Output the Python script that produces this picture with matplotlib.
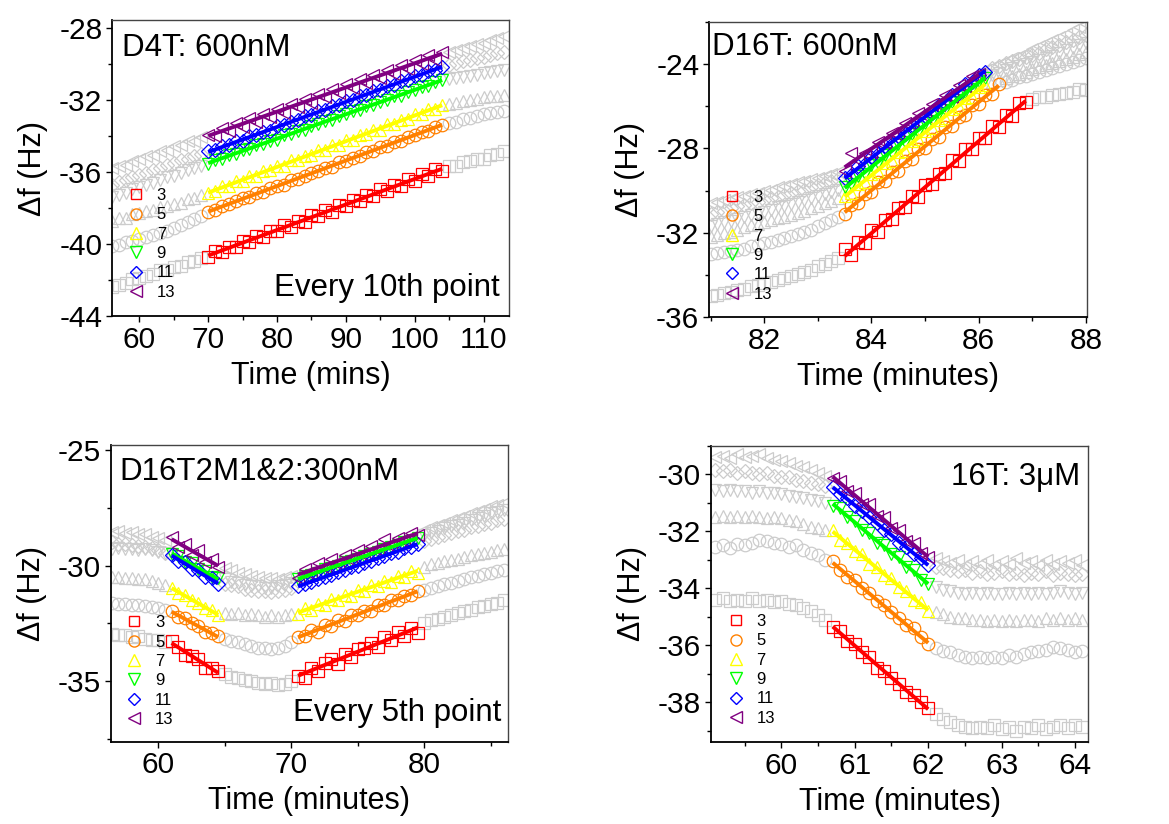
import numpy as np
import matplotlib
matplotlib.use("Agg")
import matplotlib.pyplot as plt
from matplotlib.lines import Line2D
from matplotlib.ticker import MultipleLocator

plt.rcParams['font.family'] = ['Liberation Sans', 'DejaVu Sans']
plt.rcParams['axes.unicode_minus'] = False

# ---------------- common ----------------
harmonics = ['3', '5', '7', '9', '11', '13']
colors = ['#FF0000', '#FF8000', '#FFFF00', '#00FF00', '#0000FF', '#800080']
markers = ['s', 'o', '^', 'v', 'D', '<']
GRAY = '#CCCCCC'

# ---------------- panel 1: D4T 600nM ----------------
p1_time = [56, 57, 58, 59, 60, 61, 62, 63, 64, 65, 66, 67, 68, 69, 70, 71, 72, 73, 74, 75,
           76, 77, 78, 79, 80, 81, 82, 83, 84, 85, 86, 87, 88, 89, 90, 91, 92, 93, 94, 95,
           96, 97, 98, 99, 100, 101, 102, 103, 104, 105, 106, 107, 108, 109, 110, 111, 112, 113]
p1_f3 = [-42.40, -42.25, -42.15, -41.95, -41.90, -41.75, -41.65, -41.45, -41.45, -41.25,
         -41.20, -41.00, -40.95, -40.80, -40.70, -40.40, -40.45, -40.15, -40.15, -39.85,
         -39.90, -39.55, -39.60, -39.30, -39.30, -38.95, -39.05, -38.70, -38.75, -38.40,
         -38.45, -38.10, -38.20, -37.85, -37.90, -37.55, -37.60, -37.30, -37.35, -36.95,
         -37.05, -36.70, -36.80, -36.40, -36.50, -36.10, -36.20, -35.85, -35.95, -35.65,
         -35.65, -35.45, -35.40, -35.25, -35.25, -35.05, -35.00, -34.85]
p1_f5 = [-40.10, -40.05, -39.90, -39.85, -39.70, -39.60, -39.50, -39.40, -39.25, -39.10,
         -38.95, -38.80, -38.60, -38.45, -38.20, -38.10, -37.90, -37.80, -37.60, -37.45,
         -37.40, -37.15, -37.10, -36.90, -36.75, -36.70, -36.45, -36.40, -36.20, -36.05,
         -35.95, -35.75, -35.70, -35.45, -35.40, -35.20, -35.10, -34.90, -34.85, -34.60,
         -34.55, -34.35, -34.25, -34.05, -33.95, -33.75, -33.70, -33.50, -33.40, -33.30,
         -33.20, -33.05, -33.00, -32.90, -32.80, -32.70, -32.65, -32.60]
p1_f7 = [-38.70, -38.55, -38.55, -38.35, -38.30, -38.15, -38.10, -37.95, -37.90, -37.75,
         -37.70, -37.50, -37.45, -37.25, -37.15, -37.05, -36.80, -36.80, -36.50, -36.50,
         -36.20, -36.20, -35.95, -35.90, -35.65, -35.65, -35.35, -35.35, -35.10, -35.05,
         -34.80, -34.80, -34.50, -34.50, -34.20, -34.20, -33.95, -33.90, -33.65, -33.65,
         -33.35, -33.35, -33.10, -33.05, -32.80, -32.80, -32.50, -32.50, -32.25, -32.20,
         -32.15, -32.05, -32.00, -31.95, -31.85, -31.80, -31.75, -31.70]
p1_f9 = [-37.40, -37.25, -37.15, -36.95, -36.85, -36.70, -36.60, -36.45, -36.30, -36.20,
         -36.05, -35.90, -35.80, -35.65, -35.55, -35.35, -35.25, -35.05, -35.00, -34.80,
         -34.70, -34.50, -34.45, -34.25, -34.20, -33.95, -33.90, -33.70, -33.65, -33.45,
         -33.35, -33.15, -33.10, -32.90, -32.80, -32.60, -32.55, -32.35, -32.30, -32.10,
         -32.00, -31.80, -31.75, -31.55, -31.45, -31.25, -31.20, -31.00, -30.90, -30.85,
         -30.80, -30.70, -30.65, -30.60, -30.50, -30.45, -30.40, -30.30]
p1_f11 = [-36.70, -36.55, -36.45, -36.30, -36.15, -36.05, -35.90, -35.80, -35.60, -35.50,
          -35.35, -35.25, -35.10, -35.00, -34.85, -34.80, -34.55, -34.50, -34.30, -34.25,
          -34.00, -33.95, -33.75, -33.70, -33.45, -33.40, -33.20, -33.10, -32.90, -32.85,
          -32.60, -32.55, -32.35, -32.30, -32.05, -32.00, -31.80, -31.70, -31.50, -31.45,
          -31.20, -31.15, -30.95, -30.90, -30.65, -30.60, -30.40, -30.30, -30.15, -30.05,
          -29.95, -29.85, -29.75, -29.65, -29.60, -29.50, -29.40, -29.30]
p1_f13 = [-35.80, -35.65, -35.60, -35.40, -35.30, -35.10, -35.05, -34.85, -34.80, -34.55,
          -34.50, -34.30, -34.25, -34.05, -33.95, -34.00, -33.55, -33.70, -33.30, -33.50,
          -33.00, -33.20, -32.75, -32.95, -32.50, -32.70, -32.20, -32.40, -31.95, -32.15,
          -31.65, -31.85, -31.40, -31.60, -31.10, -31.35, -30.85, -31.05, -30.60, -30.80,
          -30.30, -30.55, -30.05, -30.25, -29.75, -30.00, -29.50, -29.75, -29.35, -29.30,
          -29.20, -29.10, -29.00, -28.90, -28.80, -28.65, -28.55, -28.45]
p1_windows = [[(70, 104)], [(70, 104)], [(70, 104)], [(70, 104)], [(70, 104)], [(70, 104)]]

# ---------------- panel 2: D16T 600nM ----------------
p2_time = [81.0, 81.125, 81.25, 81.375, 81.5, 81.625, 81.75, 81.875, 82.0, 82.125,
           82.25, 82.375, 82.5, 82.625, 82.75, 82.875, 83.0, 83.125, 83.25, 83.375,
           83.5, 83.625, 83.75, 83.875, 84.0, 84.125, 84.25, 84.375, 84.5, 84.625,
           84.75, 84.875, 85.0, 85.125, 85.25, 85.375, 85.5, 85.625, 85.75, 85.875,
           86.0, 86.125, 86.25, 86.375, 86.5, 86.625, 86.75, 86.875, 87.0, 87.125,
           87.25, 87.375, 87.5, 87.625, 87.75, 87.875, 88.0]
p2_f3 = [-35.00, -34.95, -34.85, -34.80, -34.70, -34.65, -34.55, -34.50, -34.40, -34.35,
         -34.25, -34.15, -34.05, -33.95, -33.85, -33.75, -33.60, -33.50, -33.35, -33.20,
         -32.75, -33.05, -32.45, -32.50, -31.85, -31.95, -31.40, -31.35, -30.85, -30.80,
         -30.25, -30.30, -29.75, -29.70, -29.20, -29.15, -28.55, -28.60, -28.05, -28.05,
         -27.50, -27.50, -26.95, -27.00, -26.40, -26.45, -25.85, -25.80, -25.65, -25.55,
         -25.55, -25.45, -25.40, -25.35, -25.30, -25.20, -25.25]
p2_f5 = [-33.00, -32.95, -32.90, -32.85, -32.80, -32.75, -32.65, -32.60, -32.50, -32.45,
         -32.35, -32.25, -32.15, -32.05, -31.95, -31.85, -31.70, -31.55, -31.40, -31.25,
         -31.10, -30.70, -30.60, -30.15, -30.05, -29.60, -29.55, -29.10, -29.05, -28.60,
         -28.50, -28.05, -28.00, -27.55, -27.45, -27.00, -26.95, -26.50, -26.40, -25.95,
         -25.90, -25.45, -25.40, -24.95, -24.85, -24.75, -24.60, -24.55, -24.45, -24.35,
         -24.30, -24.20, -24.10, -24.00, -23.90, -23.80, -23.70]
p2_f7 = [-32.20, -32.10, -32.00, -31.95, -31.85, -31.75, -31.65, -31.60, -31.50, -31.40,
         -31.30, -31.25, -31.15, -31.05, -30.95, -30.85, -30.75, -30.60, -30.50, -30.35,
         -30.25, -30.10, -29.70, -29.60, -29.20, -29.10, -28.70, -28.60, -28.15, -28.10,
         -27.65, -27.55, -27.15, -27.05, -26.65, -26.55, -26.15, -26.05, -25.60, -25.55,
         -25.10, -25.00, -24.85, -24.75, -24.65, -24.55, -24.45, -24.35, -24.25, -24.15,
         -24.05, -23.95, -23.85, -23.75, -23.65, -23.50, -23.40]
p2_f9 = [-31.70, -31.60, -31.50, -31.45, -31.35, -31.25, -31.15, -31.10, -31.00, -30.90,
         -30.80, -30.75, -30.65, -30.55, -30.45, -30.35, -30.25, -30.15, -30.05, -29.95,
         -29.85, -29.70, -29.30, -29.20, -28.80, -28.70, -28.30, -28.20, -27.80, -27.70,
         -27.30, -27.20, -26.80, -26.70, -26.30, -26.20, -25.80, -25.70, -25.30, -25.20,
         -24.80, -24.65, -24.50, -24.40, -24.30, -24.20, -24.10, -24.00, -23.90, -23.80,
         -23.70, -23.60, -23.45, -23.35, -23.25, -23.10, -23.00]
p2_f11 = [-31.10, -31.00, -30.95, -30.85, -30.75, -30.70, -30.60, -30.55, -30.45, -30.35,
          -30.30, -30.20, -30.10, -30.00, -29.95, -29.85, -29.75, -29.65, -29.55, -29.45,
          -29.40, -29.25, -28.85, -28.75, -28.40, -28.25, -27.90, -27.80, -27.40, -27.30,
          -26.90, -26.80, -26.45, -26.30, -25.95, -25.85, -25.45, -25.35, -24.95, -24.85,
          -24.50, -24.35, -24.20, -24.10, -23.95, -23.85, -23.75, -23.65, -23.55, -23.45,
          -23.30, -23.20, -23.10, -22.95, -22.85, -22.70, -22.60]
p2_f13 = [-30.60, -30.55, -30.45, -30.40, -30.30, -30.25, -30.15, -30.10, -30.00, -29.95,
          -29.85, -29.80, -29.70, -29.60, -29.55, -29.45, -29.40, -29.30, -29.20, -29.10,
          -29.05, -28.20, -28.55, -28.20, -28.15, -27.70, -27.75, -27.25, -27.35, -26.80,
          -26.85, -26.30, -26.45, -25.90, -25.95, -25.45, -25.55, -25.00, -25.05, -24.55,
          -24.45, -24.30, -24.15, -24.00, -23.85, -23.70, -23.60, -23.45, -23.30, -23.15,
          -23.00, -22.85, -22.70, -22.55, -22.40, -22.25, -22.10]
p2_windows = [[(83.5, 86.875)], [(83.5, 86.375)], [(83.5, 86.125)],
              [(83.5, 86.125)], [(83.5, 86.125)], [(83.5, 86.0)]]

# ---------------- panel 3: D16T2M1&2 300nM ----------------
p3_time = [56.5, 57.0, 57.5, 58.0, 58.5, 59.0, 59.5, 60.0, 60.5, 61.0,
           61.5, 62.0, 62.5, 63.0, 63.5, 64.0, 64.5, 65.0, 65.5, 66.0,
           66.5, 67.0, 67.5, 68.0, 68.5, 69.0, 69.5, 70.0, 70.5, 71.0,
           71.5, 72.0, 72.5, 73.0, 73.5, 74.0, 74.5, 75.0, 75.5, 76.0,
           76.5, 77.0, 77.5, 78.0, 78.5, 79.0, 79.5, 80.0, 80.5, 81.0,
           81.5, 82.0, 82.5, 83.0, 83.5, 84.0, 84.5, 85.0, 85.5, 86.0]
p3_f3 = [-32.95, -33.00, -33.00, -33.10, -33.05, -33.15, -33.20, -33.20, -33.30, -33.25,
         -33.50, -33.85, -33.90, -34.05, -34.40, -34.40, -34.55, -34.70, -34.80, -34.85,
         -34.95, -35.00, -35.05, -35.10, -35.05, -35.15, -35.10, -35.00, -34.75, -34.85,
         -34.40, -34.55, -34.20, -34.05, -34.25, -33.80, -33.95, -33.60, -33.55, -33.35,
         -33.50, -33.10, -33.20, -32.85, -33.05, -32.70, -32.90, -32.50, -32.35, -32.30,
         -32.20, -32.15, -32.05, -31.95, -31.90, -31.80, -31.75, -31.65, -31.60, -31.50]
p3_f5 = [-31.60, -31.65, -31.65, -31.70, -31.70, -31.75, -31.80, -31.85, -31.90, -31.95,
         -32.20, -32.25, -32.50, -32.60, -32.85, -32.90, -33.05, -33.15, -33.25, -33.30,
         -33.40, -33.45, -33.55, -33.55, -33.60, -33.55, -33.45, -33.30, -33.10, -33.05,
         -32.80, -32.85, -32.55, -32.60, -32.35, -32.40, -32.15, -32.15, -31.95, -31.95,
         -31.70, -31.70, -31.50, -31.50, -31.30, -31.25, -31.10, -31.05, -30.95, -30.90,
         -30.80, -30.75, -30.65, -30.60, -30.50, -30.45, -30.35, -30.30, -30.25, -30.20]
p3_f7 = [-30.50, -30.50, -30.55, -30.55, -30.60, -30.60, -30.65, -30.75, -30.85, -30.95,
         -31.20, -31.25, -31.50, -31.60, -31.85, -31.90, -32.15, -32.05, -32.10, -32.05,
         -32.15, -32.10, -32.15, -32.20, -32.15, -32.20, -32.15, -32.10, -32.10, -31.85,
         -31.90, -31.65, -31.70, -31.45, -31.50, -31.25, -31.30, -31.05, -31.10, -30.85,
         -30.90, -30.65, -30.70, -30.45, -30.50, -30.25, -30.30, -30.05, -29.95, -29.90,
         -29.80, -29.75, -29.70, -29.65, -29.55, -29.50, -29.45, -29.40, -29.35, -29.30]
p3_f9 = [-29.30, -29.25, -29.30, -29.30, -29.35, -29.30, -29.35, -29.40, -29.45, -29.50,
         -29.60, -29.85, -29.90, -30.15, -30.25, -30.50, -30.55, -30.60, -30.70, -30.75,
         -30.85, -30.90, -30.90, -30.95, -30.95, -30.90, -30.85, -30.75, -30.60, -30.45,
         -30.40, -30.30, -30.15, -30.10, -30.00, -29.85, -29.80, -29.70, -29.60, -29.50,
         -29.40, -29.30, -29.20, -29.10, -29.00, -28.95, -28.80, -28.70, -28.60, -28.50,
         -28.40, -28.30, -28.25, -28.15, -28.05, -27.95, -27.85, -27.75, -27.70, -27.60]
p3_f11 = [-29.00, -29.05, -29.05, -29.10, -29.15, -29.20, -29.25, -29.35, -29.45, -29.55,
          -29.80, -29.85, -30.15, -30.20, -30.50, -30.55, -30.80, -30.80, -30.85, -30.90,
          -31.00, -31.05, -31.10, -31.10, -31.15, -31.10, -31.05, -30.95, -30.90, -30.80,
          -30.70, -30.60, -30.50, -30.40, -30.28, -30.20, -30.05, -30.00, -29.88, -29.80,
          -29.66, -29.60, -29.46, -29.40, -29.26, -29.20, -29.06, -28.95, -28.85, -28.75,
          -28.70, -28.60, -28.50, -28.45, -28.35, -28.30, -28.20, -28.15, -28.05, -28.00]
p3_f13 = [-28.55, -28.50, -28.60, -28.55, -28.65, -28.65, -28.75, -28.80, -28.90, -28.75,
          -29.20, -29.05, -29.55, -29.35, -29.85, -29.70, -30.05, -30.10, -30.20, -30.30,
          -30.35, -30.45, -30.50, -30.55, -30.55, -30.60, -30.50, -30.45, -30.55, -30.15,
          -30.35, -29.90, -30.10, -29.70, -29.95, -29.55, -29.75, -29.35, -29.55, -29.15,
          -29.35, -28.85, -29.15, -28.80, -28.95, -28.60, -28.70, -28.45, -28.35, -28.25,
          -28.15, -28.05, -27.95, -27.85, -27.75, -27.65, -27.55, -27.45, -27.40, -27.30]
p3_windows = [[(61.0, 64.5), (70.5, 79.5)]] * 6

# ---------------- panel 4: 16T 3uM ----------------
p4_time = [59.1, 59.2, 59.3, 59.4, 59.5, 59.6, 59.7, 59.8, 59.9, 60.0,
           60.1, 60.2, 60.3, 60.4, 60.5, 60.6, 60.7, 60.8, 60.9, 61.0,
           61.1, 61.2, 61.3, 61.4, 61.5, 61.6, 61.7, 61.8, 61.9, 62.0,
           62.1, 62.2, 62.3, 62.4, 62.5, 62.6, 62.7, 62.8, 62.9, 63.0,
           63.1, 63.2, 63.3, 63.4, 63.5, 63.6, 63.7, 63.8, 63.9, 64.0, 64.1]
p4_f3 = [-34.40, -34.35, -34.45, -34.40, -34.45, -34.35, -34.45, -34.40, -34.50, -34.45,
         -34.55, -34.60, -34.70, -34.80, -34.95, -35.10, -35.35, -35.50, -35.85, -35.95,
         -36.25, -36.40, -36.80, -36.90, -37.15, -37.35, -37.65, -37.75, -38.00, -38.20,
         -38.40, -38.60, -38.70, -38.80, -38.85, -38.90, -38.85, -38.90, -38.80, -38.95,
         -38.85, -39.00, -38.85, -38.90, -38.80, -38.95, -38.85, -38.80, -38.90, -38.80, -38.85]
p4_f5 = [-32.55, -32.50, -32.60, -32.45, -32.50, -32.40, -32.30, -32.35, -32.40, -32.45,
         -32.55, -32.50, -32.65, -32.75, -32.85, -33.00, -33.05, -33.35, -33.60, -33.70,
         -34.00, -34.15, -34.45, -34.60, -34.85, -35.05, -35.30, -35.40, -35.70, -35.95,
         -36.10, -36.20, -36.25, -36.35, -36.40, -36.45, -36.40, -36.45, -36.40, -36.45,
         -36.35, -36.40, -36.30, -36.25, -36.20, -36.15, -36.05, -36.10, -36.15, -36.25, -36.20]
p4_f7 = [-31.50, -31.45, -31.50, -31.45, -31.50, -31.45, -31.50, -31.55, -31.50, -31.55,
         -31.60, -31.65, -31.75, -31.85, -31.90, -31.95, -31.95, -32.30, -32.40, -32.70,
         -32.80, -33.15, -33.25, -33.55, -33.65, -33.95, -34.10, -34.40, -34.50, -34.80,
         -34.85, -34.90, -35.00, -35.05, -35.05, -35.10, -35.10, -35.15, -35.10, -35.15,
         -35.10, -35.15, -35.10, -35.10, -35.15, -35.05, -35.10, -35.05, -35.10, -35.05, -35.10]
p4_f9 = [-30.55, -30.60, -30.55, -30.60, -30.60, -30.65, -30.60, -30.65, -30.65, -30.70,
         -30.75, -30.80, -30.85, -30.90, -30.95, -31.00, -31.10, -31.20, -31.50, -31.65,
         -31.95, -32.05, -32.40, -32.50, -32.80, -32.90, -33.25, -33.35, -33.70, -33.85,
         -33.95, -34.05, -34.10, -34.15, -34.20, -34.15, -34.20, -34.15, -34.20, -34.20,
         -34.15, -34.20, -34.15, -34.20, -34.15, -34.20, -34.15, -34.10, -34.15, -34.20, -34.15]
p4_f11 = [-29.85, -29.90, -29.85, -29.95, -29.90, -29.95, -30.00, -29.95, -30.05, -30.10,
          -30.10, -30.20, -30.25, -30.30, -30.35, -30.40, -30.45, -30.70, -30.85, -31.10,
          -31.30, -31.50, -31.70, -31.95, -32.10, -32.40, -32.55, -32.80, -32.95, -33.20,
          -33.25, -33.30, -33.35, -33.40, -33.35, -33.45, -33.40, -33.50, -33.45, -33.40,
          -33.50, -33.45, -33.55, -33.45, -33.50, -33.40, -33.55, -33.45, -33.50, -33.55, -33.50]
p4_f13 = [-29.40, -29.35, -29.45, -29.30, -29.40, -29.35, -29.30, -29.45, -29.50, -29.55,
          -29.60, -29.70, -29.75, -29.85, -29.95, -30.05, -30.15, -30.25, -30.60, -30.65,
          -31.05, -31.05, -31.45, -31.50, -31.90, -31.95, -32.35, -32.40, -32.75, -32.90,
          -32.95, -33.05, -33.10, -33.00, -33.20, -33.05, -33.15, -33.00, -33.20, -33.05,
          -33.15, -32.95, -33.10, -33.05, -33.20, -33.00, -33.15, -33.05, -33.10, -33.00, -33.20]
p4_windows = [[(60.7, 62.0)]] * 6

# ---------------- drawing ----------------
marker_size = {'s': 8.2, 'o': 9.0, '^': 9.2, 'v': 9.2, 'D': 7.2, '<': 9.2}
leg_size = {'s': 7.5, 'o': 8.0, '^': 8.4, 'v': 8.4, 'D': 6.6, '<': 8.4}

fig = plt.figure(figsize=(11.69, 8.24), dpi=100)

panels = [
    dict(rect=[0.0958, 0.6165, 0.3396, 0.3592], time=p1_time,
         series=[p1_f3, p1_f5, p1_f7, p1_f9, p1_f11, p1_f13], windows=p1_windows,
         xlim=(56.03, 113.7), ylim=(-44.0, -27.55), xmaj=10, xmin=5, ymaj=4, ymin=2,
         xlabel='Time (mins)', leg=(0.039, 0.432)),
    dict(rect=[0.6065, 0.6153, 0.3234, 0.3580], time=p2_time,
         series=[p2_f3, p2_f5, p2_f7, p2_f9, p2_f11, p2_f13], windows=p2_windows,
         xlim=(80.97, 88.02), ylim=(-36.0, -22.0), xmaj=2, xmin=1, ymaj=4, ymin=2,
         xlabel='Time (minutes)', leg=(0.04, 0.431)),
    dict(rect=[0.0947, 0.0999, 0.3396, 0.3600], time=p3_time,
         series=[p3_f3, p3_f5, p3_f7, p3_f9, p3_f11, p3_f13], windows=p3_windows,
         xlim=(56.42, 86.27), ylim=(-37.6, -24.8), xmaj=10, xmin=5, ymaj=5, ymin=2.5,
         xlabel='Time (minutes)', leg=(0.038, 0.426)),
    dict(rect=[0.6080, 0.0992, 0.3230, 0.3600], time=p4_time,
         series=[p4_f3, p4_f5, p4_f7, p4_f9, p4_f11, p4_f13], windows=p4_windows,
         xlim=(59.04, 64.18), ylim=(-39.4, -29.0), xmaj=1, xmin=0.5, ymaj=2, ymin=1,
         xlabel='Time (minutes)', leg=(0.044, 0.432)),
]

axes = []
for P in panels:
    ax = fig.add_axes(P['rect'])
    axes.append(ax)
    t = np.array(P['time'], dtype=float)
    masks = []
    for k, y in enumerate(P['series']):
        inwin = np.zeros(t.shape, dtype=bool)
        for a, b in P['windows'][k]:
            inwin |= (t >= a - 1e-6) & (t <= b + 1e-6)
        masks.append(inwin)
    # gray background data
    for k, y in enumerate(P['series']):
        y = np.array(y, dtype=float)
        m = markers[k]
        ax.plot(t[~masks[k]], y[~masks[k]], ls='none', marker=m, ms=marker_size[m],
                mfc='none', mec=GRAY, mew=0.9, zorder=1)
    # coloured fitted data + linear fits
    for k, y in enumerate(P['series']):
        y = np.array(y, dtype=float)
        m = markers[k]
        ax.plot(t[masks[k]], y[masks[k]], ls='none', marker=m, ms=marker_size[m],
                mfc='none', mec=colors[k], mew=0.9, zorder=2 + k * 0.1)
        for a, b in P['windows'][k]:
            w = (t >= a - 1e-6) & (t <= b + 1e-6)
            coef = np.polyfit(t[w], y[w], 1)
            xs = np.array([t[w].min(), t[w].max()])
            ax.plot(xs, np.polyval(coef, xs), color=colors[k], lw=2.8,
                    solid_capstyle='butt', zorder=3 + k * 0.1)

    ax.set_xlim(*P['xlim'])
    ax.set_ylim(*P['ylim'])
    ax.xaxis.set_major_locator(MultipleLocator(P['xmaj']))
    ax.xaxis.set_minor_locator(MultipleLocator(P['xmin']))
    ax.yaxis.set_major_locator(MultipleLocator(P['ymaj']))
    ax.yaxis.set_minor_locator(MultipleLocator(P['ymin']))
    ax.tick_params(which='both', direction='out', top=False, right=False,
                   labelsize=21.5, width=1.0, colors='black')
    ax.tick_params(which='major', length=4.5, pad=2.5)
    ax.tick_params(which='minor', length=3)
    for s in ['left', 'bottom']:
        ax.spines[s].set_color('black')
        ax.spines[s].set_linewidth(1.3)
    for s in ['top', 'right']:
        ax.spines[s].set_color('#444444')
        ax.spines[s].set_linewidth(1.0)
    ax.set_xlabel(P['xlabel'], fontsize=22, labelpad=5)
    ax.set_ylabel('\u0394f (Hz)', fontsize=22, labelpad=8)

    handles = [Line2D([], [], ls='none', marker=markers[k], ms=leg_size[markers[k]],
                      mfc='none', mec=colors[k], mew=1.0) for k in range(6)]
    ax.legend(handles, harmonics, loc='upper left', bbox_to_anchor=P['leg'],
              frameon=False, fontsize=12, handlelength=1.0, handletextpad=0.75,
              labelspacing=0.26, borderpad=0, borderaxespad=0)

# annotations
axes[0].text(0.025, 0.955, 'D4T: 600nM', transform=axes[0].transAxes,
             fontsize=22.5, ha='left', va='top')
axes[0].text(0.977, 0.045, 'Every 10th point', transform=axes[0].transAxes,
             fontsize=22.5, ha='right', va='bottom')
axes[1].text(0.008, 0.965, 'D16T: 600nM', transform=axes[1].transAxes,
             fontsize=22.5, ha='left', va='top')
axes[2].text(0.023, 0.96, 'D16T2M1&2:300nM', transform=axes[2].transAxes,
             fontsize=22.5, ha='left', va='top')
axes[2].text(0.985, 0.045, 'Every 5th point', transform=axes[2].transAxes,
             fontsize=22.5, ha='right', va='bottom')
axes[3].text(0.978, 0.945, '16T: 3\u03bcM', transform=axes[3].transAxes,
             fontsize=22.5, ha='right', va='top')

fig.savefig('out.png', dpi=100)
